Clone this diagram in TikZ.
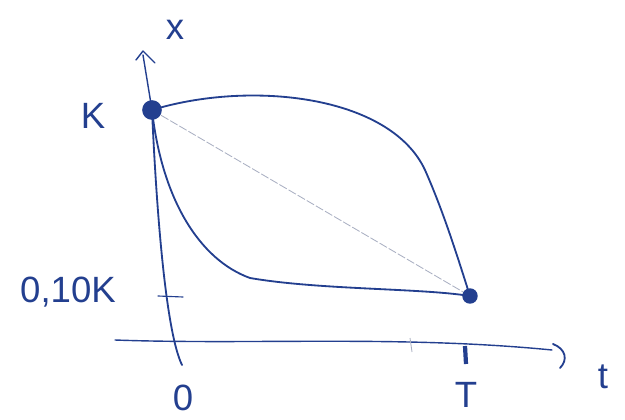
\documentclass[tikz,border=0pt]{standalone}
\usepackage{fontspec}
\setmainfont{Liberation Sans}
\usetikzlibrary{arrows.meta,positioning}
\definecolor{ink}{HTML}{233F8F}
\definecolor{faint}{HTML}{A9AFC2}

\begin{document}
\begin{tikzpicture}[x=0.025cm,y=-0.025cm,every node/.style={font=\fontsize{26}{28}\selectfont,text=ink},
  pen/.style={ink,line width=1.3pt,line cap=round,line join=round},
  blob/.style={circle,fill=ink,inner sep=0pt,minimum size=#1}]
\useasboundingbox (0,0) rectangle (625,420);
% points
\coordinate (K) at (152,110);
\coordinate (P) at (470,296);
\coordinate (xtop) at (143,55);
\coordinate (ybot) at (182,365);
\coordinate (tl) at (115,340);
\coordinate (tr) at (552,350);
\coordinate (TT) at (465,355);
% labels
\node (x) at (175,30) {x};
\node (k) at (93,116) {K};
\node (q) at (68,292) {0,10K};
\node[inner sep=1pt] (o) at (183,398) {0};
\node (T) at (466,395) {T};
\node (t) at (603,377) {t};
% axes
\draw[pen,line width=1pt] (tl) .. controls (250,345) and (400,335) .. (tr);
\draw[pen,line width=1.3pt] (553,344) .. controls (566,349) and (568,360) .. (560,368);
\draw[pen,line width=1pt] (xtop) -- (K);
\draw[pen,line width=1pt] (136,60) -- (143,51) -- (155,63);
\draw[pen] (K) .. controls (156,200) and (165,330) .. (ybot);
\draw[pen,line width=0.8pt] (158,296) -- (183,297);
\draw[faint,line width=0.6pt] (410,338) -- (412,352);
\draw[ink,line width=3pt] (TT) ++(0,-9) -- ++(1,18);
% curves
\draw[faint,line width=0.6pt,dash pattern=on 6pt off 1.5pt] (K) -- (P);
\draw[pen] (K) .. controls (250,80) and (390,95) .. (425,170) .. controls (445,215) and (460,265) .. (P);
\draw[pen] (K) .. controls (162,200) and (200,260) .. (250,278) .. controls (320,290) and (420,288) .. (P);
\node[blob=14pt] at (K) {};
\node[blob=11pt] at (P) {};
\end{tikzpicture}
\end{document}
